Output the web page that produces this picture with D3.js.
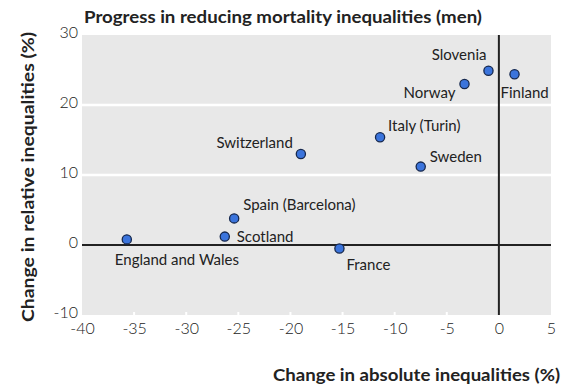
<!DOCTYPE html>
<html><head><meta charset="utf-8">
<script src="https://cdn.jsdelivr.net/npm/d3@7"></script>
<style>body{margin:0;background:#fff}</style>
</head><body><svg id="c" width="583" height="391"></svg>
<script>
const countries = ["England and Wales","Scotland","Spain (Barcelona)","France","Switzerland","Italy (Turin)","Sweden","Norway","Slovenia","Finland"];
const absoluteChange = [-35.7,-26.3,-25.4,-15.3,-19.0,-11.4,-7.5,-3.3,-1.0,1.5];
const relativeChange = [0.8,1.2,3.8,-0.5,13.0,15.4,11.2,23.0,24.9,24.4];
const xTicks = [-40,-35,-30,-25,-20,-15,-10,-5,0,5];
const yTicks = [-10,0,10,20,30];
const gridValues = [10,20];
const titleText = "Progress in reducing mortality inequalities (men)";
const xTitle = "Change in absolute inequalities (%)";
const yTitle = "Change in relative inequalities (%)";
// label placement relative to each point (px)
const labelDx = [-12,12,9,7,-8,8,9,-9,-2,-14];
const labelDy = [26,5,-8,21,-6,-6,-5,14,-11,24];
const labelAnchor = ["start","start","start","start","end","start","start","end","end","start"];

const svg = d3.select("#c");
const L = 82, R = 551, T = 35, B = 315;
const x = d3.scaleLinear().domain([-40,5]).range([L,R]);
const y = d3.scaleLinear().domain([-10,30]).range([B,T]);
const font = "Lato, 'Open Sans', sans-serif";
const ink = "#222";

svg.append("rect").attr("x",L).attr("y",T).attr("width",R-L).attr("height",B-T).attr("fill","#e8e8e8");

svg.append("g").selectAll("line").data(gridValues).join("line")
  .attr("x1",L).attr("x2",R).attr("y1",d=>y(d)).attr("y2",d=>y(d))
  .attr("stroke","#fff").attr("stroke-width",2.5);

svg.append("g").selectAll("line").data(xTicks.slice(1,-1)).join("line")
  .attr("x1",d=>x(d)).attr("x2",d=>x(d)).attr("y1",B).attr("y2",B-3)
  .attr("stroke","#fff").attr("stroke-width",2);

// zero lines
svg.append("line").attr("x1",L).attr("x2",R).attr("y1",y(0)).attr("y2",y(0)).attr("stroke",ink).attr("stroke-width",2);
svg.append("line").attr("x1",x(0)).attr("x2",x(0)).attr("y1",T).attr("y2",B).attr("stroke",ink).attr("stroke-width",2);

const xAxis = svg.append("g").attr("transform",`translate(0,${B})`)
  .call(d3.axisBottom(x).tickValues(xTicks).tickSize(0).tickPadding(8).tickFormat(d=>String(d)));
const yAxis = svg.append("g").attr("transform",`translate(${L},0)`)
  .call(d3.axisLeft(y).tickValues(yTicks).tickSize(0).tickPadding(4).tickFormat(d=>String(d)));
[xAxis,yAxis].forEach(g=>{
  g.select(".domain").remove();
  g.selectAll("text").attr("font-family",font).attr("font-size",16).attr("font-weight",300).attr("fill",ink);
});
yAxis.selectAll("text").attr("dy","0.18em");

const pts = countries.map((c,i)=>({c, a:absoluteChange[i], r:relativeChange[i], dx:labelDx[i], dy:labelDy[i], an:labelAnchor[i]}));

svg.append("g").selectAll("circle").data(pts).join("circle")
  .attr("cx",d=>x(d.a)).attr("cy",d=>y(d.r)).attr("r",4.6)
  .attr("fill","#3b74dc").attr("stroke","#16284e").attr("stroke-width",1.3);

svg.append("g").selectAll("text").data(pts).join("text")
  .attr("x",d=>x(d.a)+d.dx).attr("y",d=>y(d.r)+d.dy).attr("text-anchor",d=>d.an)
  .attr("font-family",font).attr("font-size",15).attr("fill",ink).text(d=>d.c);

svg.append("text").attr("x",84).attr("y",23).attr("font-family",font).attr("font-weight",700)
  .attr("font-size",17).attr("fill",ink).attr("textLength",398).attr("lengthAdjust","spacingAndGlyphs").text(titleText);

svg.append("text").attr("x",273).attr("y",381).attr("font-family",font).attr("font-weight",700)
  .attr("font-size",17).attr("fill",ink).attr("textLength",287).attr("lengthAdjust","spacingAndGlyphs").text(xTitle);

svg.append("text").attr("transform","translate(34,322) rotate(-90)").attr("x",0).attr("y",0)
  .attr("font-family",font).attr("font-weight",700)
  .attr("font-size",17).attr("fill",ink).attr("textLength",290).attr("lengthAdjust","spacingAndGlyphs").text(yTitle);
</script></body></html>
